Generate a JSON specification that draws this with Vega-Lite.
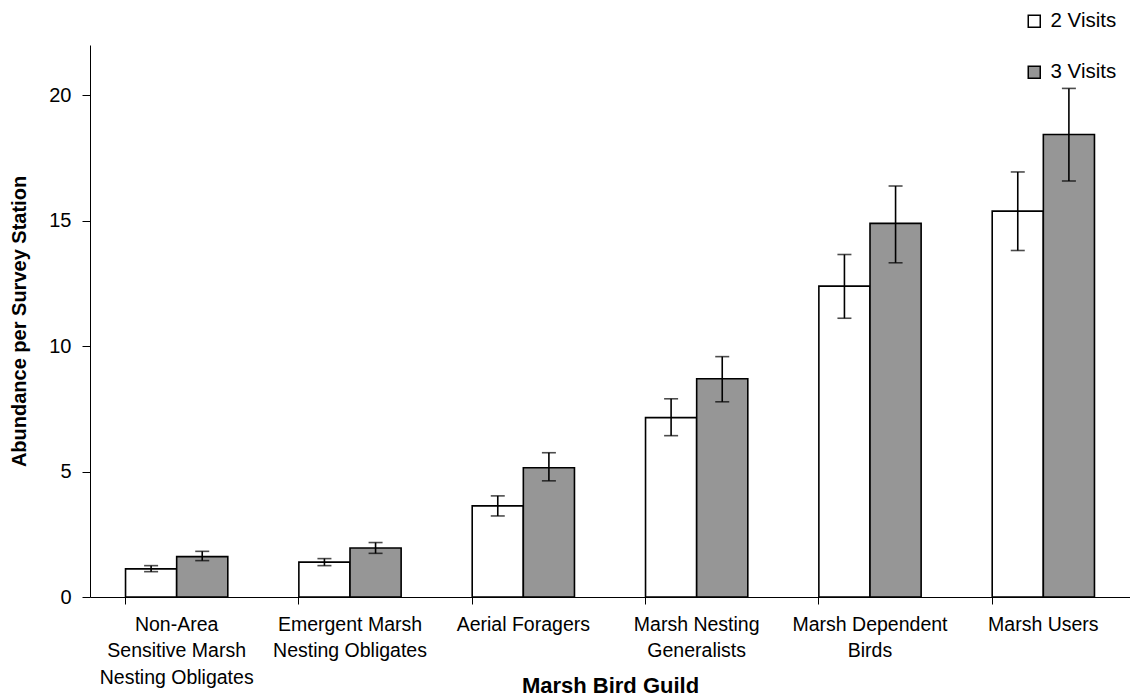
{
  "$schema": "https://vega.github.io/schema/vega-lite/v6.json",
  "width": 1040,
  "height": 552,
  "autosize": {"type": "none"},
  "padding": {"left": 90, "top": 45, "right": 0, "bottom": 99},
  "background": "white",
  "config": {
    "view": {"stroke": null},
    "font": "Liberation Sans",
    "axis": {"labelFont": "Liberation Sans", "titleFont": "Liberation Sans", "domainColor": "#000", "tickColor": "#000", "labelColor": "#000", "titleColor": "#000", "grid": false}
  },
  "data": {
    "values": [
      {"guild": "Non-Area\nSensitive Marsh\nNesting Obligates", "visits": "2 Visits", "mean": 1.12, "lo": 1.01, "hi": 1.25},
      {"guild": "Non-Area\nSensitive Marsh\nNesting Obligates", "visits": "3 Visits", "mean": 1.61, "lo": 1.45, "hi": 1.82},
      {"guild": "Emergent Marsh\nNesting Obligates", "visits": "2 Visits", "mean": 1.39, "lo": 1.25, "hi": 1.53},
      {"guild": "Emergent Marsh\nNesting Obligates", "visits": "3 Visits", "mean": 1.95, "lo": 1.74, "hi": 2.17},
      {"guild": "Aerial Foragers", "visits": "2 Visits", "mean": 3.63, "lo": 3.23, "hi": 4.03},
      {"guild": "Aerial Foragers", "visits": "3 Visits", "mean": 5.15, "lo": 4.63, "hi": 5.75},
      {"guild": "Marsh Nesting\nGeneralists", "visits": "2 Visits", "mean": 7.15, "lo": 6.43, "hi": 7.9},
      {"guild": "Marsh Nesting\nGeneralists", "visits": "3 Visits", "mean": 8.7, "lo": 7.78, "hi": 9.58},
      {"guild": "Marsh Dependent\nBirds", "visits": "2 Visits", "mean": 12.39, "lo": 11.11, "hi": 13.65},
      {"guild": "Marsh Dependent\nBirds", "visits": "3 Visits", "mean": 14.89, "lo": 13.32, "hi": 16.38},
      {"guild": "Marsh Users", "visits": "2 Visits", "mean": 15.38, "lo": 13.81, "hi": 16.94},
      {"guild": "Marsh Users", "visits": "3 Visits", "mean": 18.43, "lo": 16.58, "hi": 20.27}
    ]
  },
  "encoding": {
    "x": {
      "field": "guild", "type": "nominal", "sort": null,
      "scale": {"paddingInner": 0.41, "paddingOuter": 0.205},
      "axis": {
        "title": "Marsh Bird Guild", "titleFontSize": 22, "titleFontWeight": "bold",
        "titleY": 95, "titleBaseline": "alphabetic",
        "labelAngle": 0, "labelFontSize": 19.5, "labelExpr": "split(datum.label, '\\n')", "labelLineHeight": 26.5,
        "labelPadding": 11, "bandPosition": 0, "tickSize": 7, "domainWidth": 1, "labelBaseline": "top"
      }
    },
    "xOffset": {"field": "visits", "type": "nominal", "scale": {"paddingInner": 0}},
    "y": {"type": "quantitative"}
  },
  "layer": [
    {
      "mark": {"type": "bar", "stroke": "#000", "strokeWidth": 1.6},
      "encoding": {
        "y": {
          "field": "mean", "type": "quantitative",
          "scale": {"domain": [0, 22], "nice": false},
          "axis": {"title": "Abundance per Survey Station", "titleFontSize": 20, "titleFontWeight": "bold", "titleX": -71, "titleBaseline": "middle", "values": [0, 5, 10, 15, 20], "labelFontSize": 20, "tickSize": 8, "labelPadding": 11}
        },
        "fill": {
          "field": "visits", "type": "nominal",
          "scale": {"range": ["#ffffff", "#969696"]},
          "legend": {
            "title": null, "orient": "none", "legendX": 934, "legendY": -34,
            "symbolType": "square", "symbolSize": 144, "symbolStrokeColor": "#000", "symbolStrokeWidth": 1.5,
            "labelFontSize": 20.5, "labelColor": "#000", "rowPadding": 30, "labelOffset": 6
          }
        }
      }
    },
    {
      "mark": {"type": "rule", "color": "#000", "strokeWidth": 1.6},
      "encoding": {"y": {"field": "lo", "type": "quantitative"}, "y2": {"field": "hi"}}
    },
    {
      "mark": {"type": "tick", "color": "#000", "size": 14, "thickness": 1.6, "orient": "horizontal"},
      "encoding": {"y": {"field": "lo", "type": "quantitative"}}
    },
    {
      "mark": {"type": "tick", "color": "#000", "size": 14, "thickness": 1.6, "orient": "horizontal"},
      "encoding": {"y": {"field": "hi", "type": "quantitative"}}
    }
  ]
}
